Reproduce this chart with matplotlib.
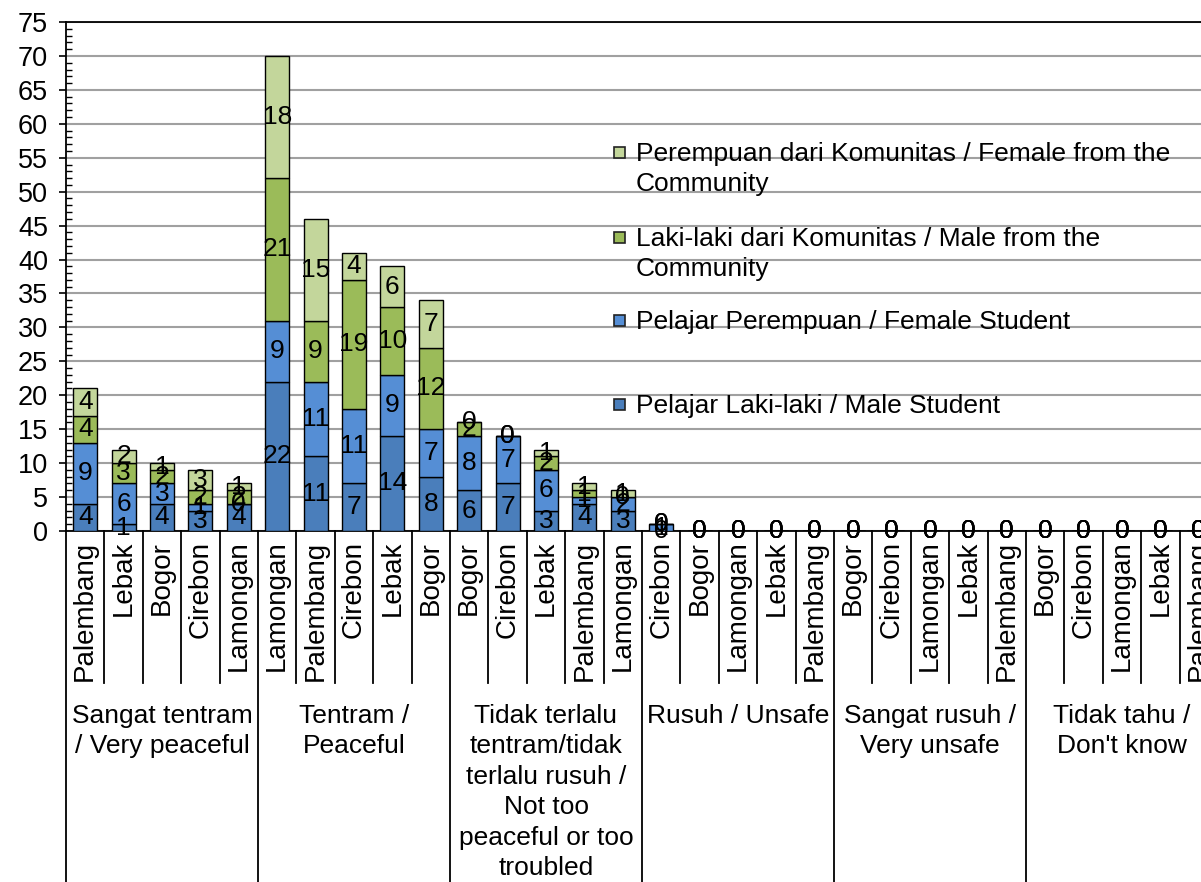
import matplotlib
matplotlib.use("Agg")
import matplotlib.pyplot as plt
from matplotlib.patches import Rectangle
import numpy as np

plt.rcParams['font.family'] = ['Liberation Sans', 'DejaVu Sans']

groups = ["Sangat tentram\n/ Very peaceful", "Tentram /\nPeaceful",
          "Tidak terlalu\ntentram/tidak\nterlalu rusuh /\nNot too\npeaceful or too\ntroubled",
          "Rusuh / Unsafe", "Sangat rusuh /\nVery unsafe", "Tidak tahu /\nDon't know"]
categories = ["Palembang", "Lebak", "Bogor", "Cirebon", "Lamongan",
              "Lamongan", "Palembang", "Cirebon", "Lebak", "Bogor",
              "Bogor", "Cirebon", "Lebak", "Palembang", "Lamongan",
              "Cirebon", "Bogor", "Lamongan", "Lebak", "Palembang",
              "Bogor", "Cirebon", "Lamongan", "Lebak", "Palembang",
              "Bogor", "Cirebon", "Lamongan", "Lebak", "Palembang"]
male_student = [4, 1, 4, 3, 4, 22, 11, 7, 14, 8, 6, 7, 3, 4, 3,
                0, 0, 0, 0, 0, 0, 0, 0, 0, 0, 0, 0, 0, 0, 0]
female_student = [9, 6, 3, 1, 0, 9, 11, 11, 9, 7, 8, 7, 6, 1, 2,
                  1, 0, 0, 0, 0, 0, 0, 0, 0, 0, 0, 0, 0, 0, 0]
male_comm = [4, 3, 2, 2, 2, 21, 9, 19, 10, 12, 2, 0, 2, 1, 0,
             0, 0, 0, 0, 0, 0, 0, 0, 0, 0, 0, 0, 0, 0, 0]
female_comm = [4, 2, 1, 3, 1, 18, 15, 4, 6, 7, 0, 0, 1, 1, 1,
               0, 0, 0, 0, 0, 0, 0, 0, 0, 0, 0, 0, 0, 0, 0]
series_names = ["Pelajar Laki-laki / Male Student",
                "Pelajar Perempuan / Female Student",
                "Laki-laki dari Komunitas / Male from the\nCommunity",
                "Perempuan dari Komunitas / Female from the\nCommunity"]
series = [male_student, female_student, male_comm, female_comm]
colors = ["#4A7EBB", "#558ED5", "#9BBB59", "#C3D69B"]
group_size = 5

W, H = 1201, 882
fig = plt.figure(figsize=(W / 100, H / 100), dpi=100)
ax_left, ax_right, ax_top, ax_bot = 66, 1218, 22, 531
ax = fig.add_axes([ax_left / W, 1 - ax_bot / H, (ax_right - ax_left) / W, (ax_bot - ax_top) / H])

FS = 19
x = np.arange(len(categories))
bottom = np.zeros(len(categories))
for vals, col in zip(series, colors):
    v = np.array(vals, dtype=float)
    ax.bar(x, v, 0.63, bottom=bottom, color=col, edgecolor="black", linewidth=1.0, zorder=3)
    for xi, b, val in zip(x, bottom, v):
        ax.text(xi, b + val / 2, f"{int(val)}", ha="center", va="center", fontsize=FS,
                color="black", zorder=5, clip_on=False)
    bottom += v

ax.set_xlim(-0.5, len(categories) - 0.5)
ax.set_ylim(0, 75)
ax.set_yticks(np.arange(0, 76, 5))
ax.set_yticks(np.arange(0, 76, 1), minor=True)
ax.tick_params(axis="y", which="major", direction="out", length=5, width=1.2, labelsize=19.5, pad=8)
ax.tick_params(axis="y", which="minor", direction="in", length=4, width=1.0)
ax.yaxis.grid(True, which="major", color="#A0A0A0", linewidth=1.5, zorder=0)
ax.set_axisbelow(True)
ax.set_xticks(x)
ax.set_xticklabels(categories, rotation=90, fontsize=20)
ax.tick_params(axis="x", length=0, pad=7)
ax.spines["right"].set_visible(False)
for s in ["left", "bottom", "top"]:
    ax.spines[s].set_linewidth(1.3)
    ax.spines[s].set_color("black")

# category separators and group separators
trans = ax.get_xaxis_transform()
plot_h = ax_bot - ax_top
short = -(683 - ax_bot) / plot_h
long_ = -(H - ax_bot) / plot_h
for i in range(len(categories) + 1):
    xb = i - 0.5
    y1 = long_ if i % group_size == 0 else short
    ax.plot([xb, xb], [0, y1], color="black", linewidth=1.3, transform=trans, clip_on=False)

# group labels
for gi, g in enumerate(groups):
    xc = gi * group_size + (group_size - 1) / 2
    ax.text(xc, -(704 - ax_bot) / plot_h, g, transform=trans, ha="center", va="top",
            fontsize=FS, linespacing=1.34, multialignment="center")

# legend (reversed order, Excel style)
leg_y = [152, 237, 320, 404]
for yy, name, col in zip(leg_y, series_names[::-1], colors[::-1]):
    fig.patches.append(Rectangle(((614) / W, 1 - (yy + 6) / H), 11 / W, 11 / H,
                                 transform=fig.transFigure, facecolor=col,
                                 edgecolor="#222222", linewidth=1.2))
    fig.text(636 / W, 1 - (yy - 10) / H, name, ha="left", va="top", fontsize=FS,
             linespacing=1.3)

fig.savefig("out.png", dpi=100)
